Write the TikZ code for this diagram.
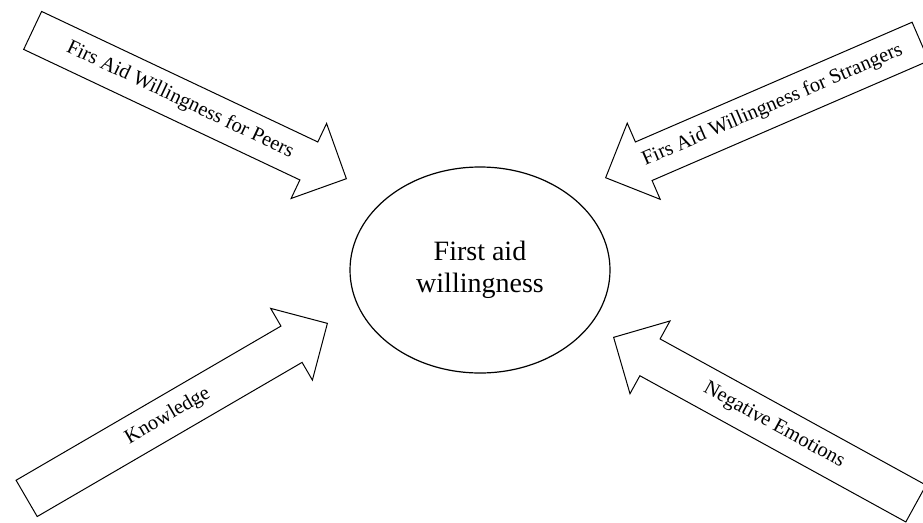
\documentclass[tikz,border=0pt]{standalone}
\usepackage{fontspec}
\setmainfont{Liberation Serif}
\usetikzlibrary{shapes.geometric,shapes.arrows,positioning}
\tikzset{
  fawcore/.style={ellipse, draw=black, line width=1.2pt, minimum width=260pt,
                  minimum height=206pt, inner sep=0pt, align=center,
                  font=\fontsize{28}{32}\selectfont},
  fawarrow/.style={single arrow, draw=black, line width=1pt, fill=white,
                   single arrow head extend=20.5pt, single arrow tip angle=90,
                   text height=14pt, text depth=4.5pt,
                   inner xsep=3pt, inner ysep=11.25pt,
                   font=\fontsize{20.5}{24}\selectfont},
  fawback/.style={fawarrow, shape border rotate=180},
}
\begin{document}
\begin{tikzpicture}[x=1pt, y=-1pt]
  \useasboundingbox (0,0) rectangle (923,522);
  % central concept
  \node[fawcore] (core) at (480,270) {First aid\\willingness};
  % four influences
  \node[fawarrow, rotate=-25.3, minimum height=347pt, anchor=tip] (peers) at (347,179)
    {Firs Aid Willingness for Peers};
  \node[fawback, rotate=23.4, minimum height=343pt, anchor=tip] (strangers) at (605,178)
    {Firs Aid Willingness for Strangers};
  \node[fawarrow, rotate=30.2, minimum height=348pt, anchor=tip] (know) at (328,323)
    {Knowledge};
  \node[fawback, rotate=-28.8, minimum height=345pt, anchor=tip] (emot) at (613,337)
    {Negative Emotions};
\end{tikzpicture}
\end{document}
